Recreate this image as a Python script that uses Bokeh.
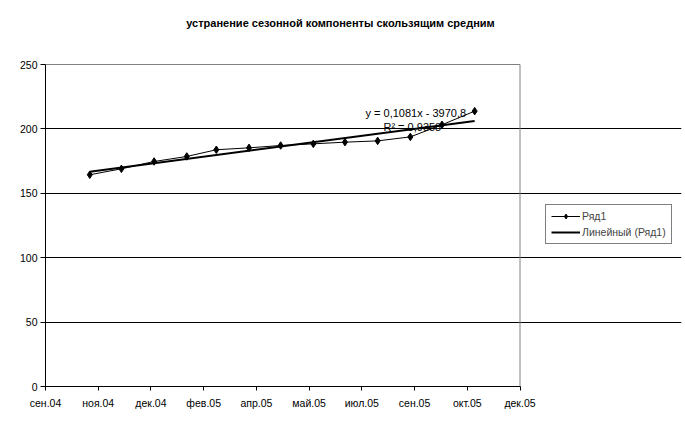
import numpy as np
import pandas as pd
from bokeh.plotting import figure
from bokeh.models import Label, Legend, LegendItem, FixedTicker, Range1d, ColumnDataSource
from bokeh.embed import file_html
from bokeh.resources import INLINE

title_text = "устранение сезонной компоненты скользящим средним"
dates = ["2004-11-01", "2004-12-01", "2005-01-01", "2005-02-01", "2005-03-01",
         "2005-04-01", "2005-05-01", "2005-06-01", "2005-07-01", "2005-08-01",
         "2005-09-01", "2005-10-01", "2005-11-01"]
values = [164.4, 169.0, 174.7, 178.6, 183.8, 185.3, 187.1, 188.4, 189.7, 190.7,
          193.8, 203.2, 213.8]
tick_dates = ["2004-09-20", "2004-11-09", "2004-12-29", "2005-02-17", "2005-04-08",
              "2005-05-28", "2005-07-17", "2005-09-05", "2005-10-25", "2005-12-14"]
tick_labels = ["сен.04", "ноя.04", "дек.04", "фев.05", "апр.05",
               "май.05", "июл.05", "сен.05", "окт.05", "дек.05"]
y_ticks = [0, 50, 100, 150, 200, 250]
grid_ticks = [50, 100, 150, 200]
series_name = "Ряд1"
trend_name = "Линейный (Ряд1)"
eq_text = "y = 0,1081x - 3970,8"
r2_text = "R² = 0,9358"

EPOCH = pd.Timestamp("1899-12-30")
def serial(d):
    return (pd.Timestamp(d) - EPOCH).days

xs = [serial(d) for d in dates]
xt = [serial(d) for d in tick_dates]

slope, intercept = np.polyfit(xs, values, 1)
trend_x = [xs[0], xs[-1]]
trend_y = [slope * v + intercept for v in trend_x]

FONT = "Liberation Sans"

# Plot-area geometry (pixels): the visible plot area is 474.5 x 322 px; the
# Bokeh frame is extended to the whole canvas so the legend/title are not clipped.
W, H = 685, 430
ML, MB, MT, MR = 45, 44, 4, 4
AREA_W, AREA_H = 474.5, 322
frame_w, frame_h = W - ML - MR, H - MB - MT
x_end = xt[0] + (xt[-1] - xt[0]) * frame_w / AREA_W
y_end = y_ticks[0] + (y_ticks[-1] - y_ticks[0]) * frame_h / AREA_H

p = figure(width=W, height=H, output_backend="svg", toolbar_location=None,
           x_range=Range1d(xt[0], x_end), y_range=Range1d(y_ticks[0], y_end),
           min_border_left=ML, min_border_right=MR, min_border_top=MT, min_border_bottom=MB)
p.background_fill_color = "white"
p.border_fill_color = "white"
p.outline_line_color = None

p.xgrid.visible = False
p.ygrid.ticker = FixedTicker(ticks=grid_ticks)
p.ygrid.bounds = (xt[0], xt[-1])
p.ygrid.grid_line_color = "black"
p.ygrid.grid_line_width = 1

for ax in (p.xaxis[0], p.yaxis[0]):
    ax.axis_line_color = "black"
    ax.major_tick_line_color = "black"
    ax.minor_tick_line_color = None
    ax.major_tick_in = 0
    ax.major_label_text_font = FONT
    ax.major_label_text_font_size = "10.5px"
    ax.major_label_text_color = "black"

p.xaxis.ticker = FixedTicker(ticks=xt)
p.xaxis.bounds = (xt[0], xt[-1])
p.xaxis.major_label_overrides = {t: l for t, l in zip(xt, tick_labels)}
p.xaxis.major_tick_out = 4
p.xaxis.major_label_standoff = 6
p.yaxis.ticker = FixedTicker(ticks=y_ticks)
p.yaxis.bounds = (y_ticks[0], y_ticks[-1])
p.yaxis.major_tick_out = 5
p.yaxis.major_label_standoff = 3

# grey border of the plot area (top and right edges)
p.line([xt[0], xt[-1], xt[-1]], [y_ticks[-1], y_ticks[-1], y_ticks[0]],
       line_color="#808080", line_width=1)

src = ColumnDataSource(dict(x=xs, y=values))
r_line = p.line("x", "y", source=src, line_color="black", line_width=1)
r_pts = p.scatter("x", "y", source=src, marker="diamond", size=7.5,
                  fill_color="black", line_color="black")
r_trend = p.line(trend_x, trend_y, line_color="black", line_width=2)

p.add_layout(Label(x=xs[-1] - 103.5, y=212.7, text=eq_text, text_font=FONT,
                   text_font_size="11px", text_align="left", text_baseline="middle",
                   text_color="black"))
p.add_layout(Label(x=xs[-1] - 86.5, y=201.1, text=r2_text, text_font=FONT,
                   text_font_size="11px", text_align="left", text_baseline="middle",
                   text_color="black"))

# title (screen units relative to the frame's bottom-left corner)
p.add_layout(Label(x=295, y=364, x_units="screen", y_units="screen", text=title_text,
                   text_font=FONT, text_font_size="11px", text_font_style="bold",
                   text_align="center", text_baseline="middle", text_color="black"))

legend = Legend(items=[LegendItem(label=series_name, renderers=[r_line, r_pts]),
                       LegendItem(label=trend_name, renderers=[r_trend])],
                location=(500, 142), padding=5, spacing=4, margin=0,
                glyph_width=29, glyph_height=12, label_height=12, label_standoff=2,
                label_text_font=FONT, label_text_font_size="10.5px",
                border_line_color="black", border_line_width=1,
                background_fill_color="white", background_fill_alpha=1)
p.add_layout(legend)

open("out.html", "w").write(file_html(p, INLINE))
